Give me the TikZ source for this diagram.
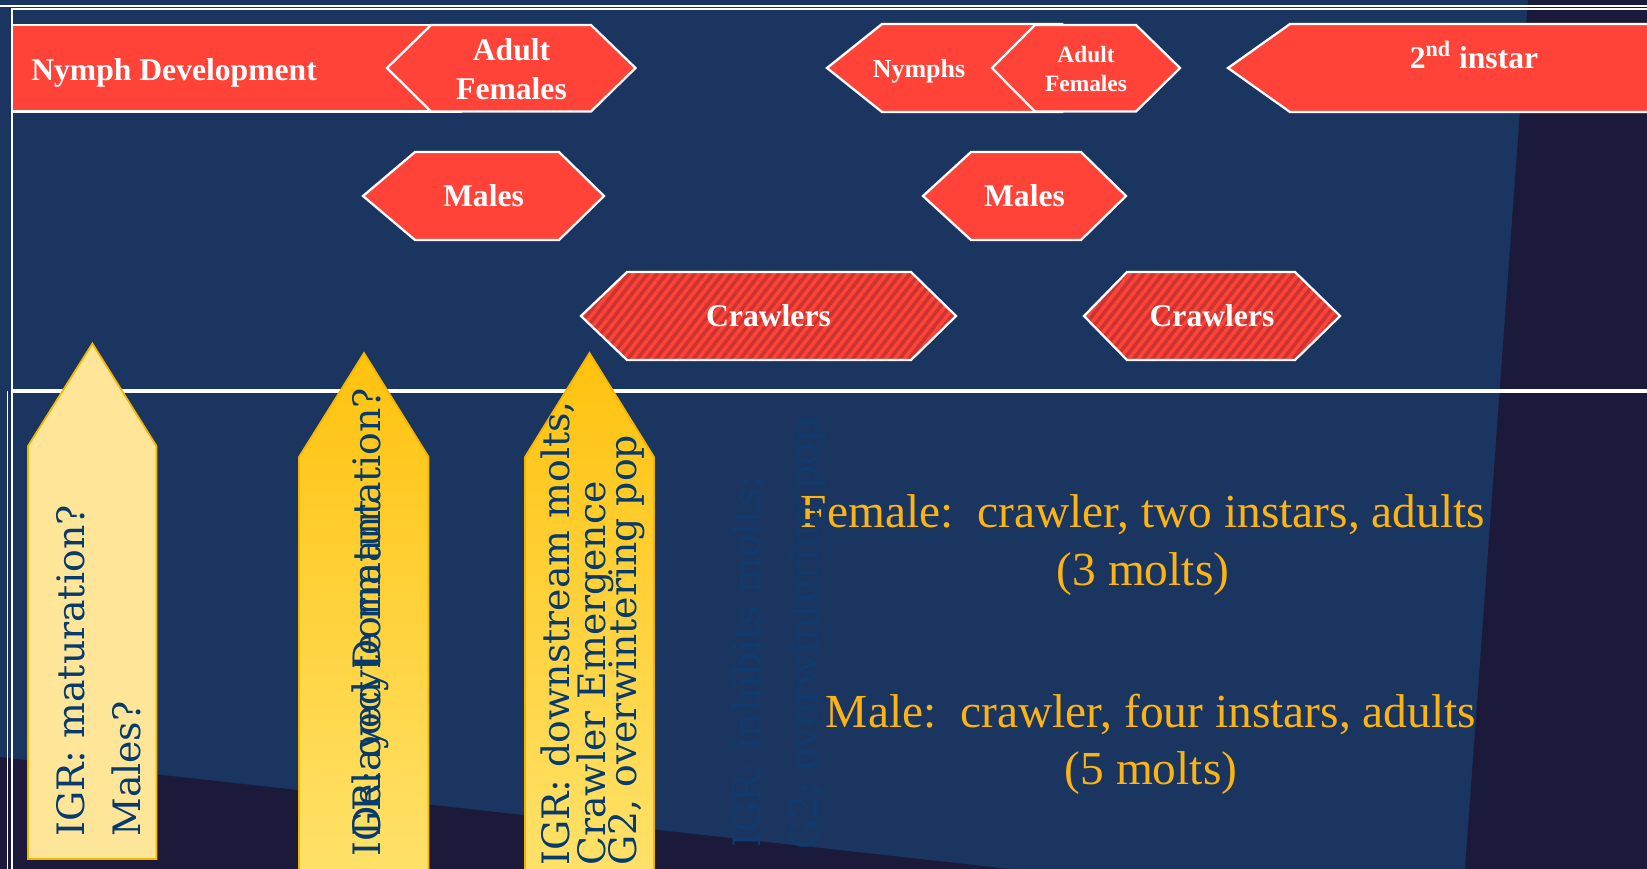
\documentclass[tikz,border=0pt]{standalone}
\usepackage{fontspec}
\setmainfont{Liberation Serif}
\newfontfamily\arrowfont{DejaVu Serif}
\usetikzlibrary{patterns.meta}
\definecolor{slidebg}{HTML}{1A355F}
\definecolor{slidedark}{HTML}{1C1A3B}
\definecolor{stagered}{HTML}{FF4338}
\definecolor{stagedark}{HTML}{CC3430}
\definecolor{igrpale}{HTML}{FFE597}
\definecolor{igrgold}{HTML}{FFC20E}
\definecolor{igrlight}{HTML}{FFE26B}
\definecolor{igredge}{HTML}{F5B400}
\definecolor{igrtext}{HTML}{073A6D}
\definecolor{igrfaint}{HTML}{113B6C}
\definecolor{moltyellow}{HTML}{FCB414}

\begin{document}
\begin{tikzpicture}[x=0.02cm, y=-0.02cm,
	stage/.style={draw=white, line width=1.3pt, fill=stagered},
	crawlstage/.style={draw=white, line width=1.3pt, preaction={fill=stagedark},
		pattern={Lines[angle=52,distance=4.2pt,line width=2pt]}, pattern color=stagered},
	stagelbl/.style={text=white, font=\fontsize{18}{22}\selectfont\bfseries, inner sep=0pt, align=center},
	igr/.style={draw=igredge, line width=1pt},
	igrtxt/.style={text=igrtext, font=\arrowfont\fontsize{21.5}{24}\selectfont, rotate=90, anchor=base west, inner sep=0pt},
	molt/.style={text=moltyellow, font=\fontsize{27}{32}\selectfont, anchor=base, inner sep=0pt}]
	 \useasboundingbox (0,0) rectangle (1647,869);
	 % slide background
	 \fill[slidebg] (0,0) rectangle (1647,869);
	 \fill[slidedark] (1528,0) -- (1647,0) -- (1647,869) -- (1465,869) -- cycle;
	 \fill[slidedark] (0,757) -- (1010,869) -- (0,869) -- cycle;
	 \draw[white, line width=1pt] (0,6) -- (1647,6);
	 \draw[white, line width=1pt] (12,869) -- (12,9) -- (1647,9);
	 \draw[white, line width=1.8pt] (12,391) -- (1647,391);
	 \draw[white, line width=0.8pt] (7.5,391) -- (7.5,869);

	 % top row
	 \draw[stage] (12,25) rectangle (461,111.5);
	 \node[stagelbl, anchor=base west] (nymphdev) at (31,80) {Nymph Development};
	 \draw[stage] (387,68) -- (431,25) -- (591,25) -- (635.5,68) -- (591,111.5) -- (431,111.5) -- cycle;
	 \node[stagelbl] (adultfem) at (511.5,69) {Adult\\Females};

	 \draw[stage] (827,68) -- (882,24) -- (1062,24) -- (1117,68) -- (1062,112) -- (882,112) -- cycle;
	 \node[stagelbl, font=\fontsize{14.8}{17}\selectfont\bfseries, anchor=base] (nymphs) at (919,77) {Nymphs};
	 \draw[stage] (992,68) -- (1035,25) -- (1136,25) -- (1180,68) -- (1136,111.5) -- (1035,111.5) -- cycle;
	 \node[stagelbl, font=\fontsize{13.3}{16}\selectfont\bfseries] (adultfemb) at (1086,69) {Adult\\Females};

	 \draw[stage] (1670,24) -- (1290,24) -- (1228,68) -- (1290,112) -- (1670,112) -- cycle;
	 \node[stagelbl, anchor=base] (instar) at (1474,68) {2\textsuperscript{nd} instar};

	 % males
	 \draw[stage] (363,196) -- (415,152) -- (559,152) -- (604,196) -- (559,240) -- (415,240) -- cycle;
	 \node[stagelbl, anchor=base] (malesa) at (483.5,206.5) {Males};
	 \draw[stage] (923,196) -- (971,152) -- (1081,152) -- (1126,196) -- (1081,240) -- (971,240) -- cycle;
	 \node[stagelbl, anchor=base] (malesb) at (1024.5,206.5) {Males};

	 % crawlers
	 \draw[crawlstage] (581,316) -- (627,272) -- (911,272) -- (956,316) -- (911,360) -- (627,360) -- cycle;
	 \node[stagelbl, anchor=base] (crawla) at (768.5,326.5) {Crawlers};
	 \draw[crawlstage] (1084,316) -- (1127,272) -- (1295,272) -- (1340,316) -- (1295,360) -- (1127,360) -- cycle;
	 \node[stagelbl, anchor=base] (crawlb) at (1212,326.5) {Crawlers};

	 % IGR arrows
	 \draw[igr, fill=igrpale] (28,859) -- (28,446) -- (92.4,343.5) -- (156.5,446) -- (156.5,859) -- cycle;
	 \node[igrtxt] (igrmat) at (84,837) {IGR: maturation?};
	 \node[igrtxt] (igrmales) at (140,837) {Males?};

	 \draw[igr, top color=igrgold, bottom color=igrlight] (299,880) -- (299,457) -- (364,353) -- (428.6,457) -- (428.6,880) -- cycle;
	 \node[igrtxt] (igrooc) at (380,857) {IGR: oocyte maturation?};
	 \node[igrtxt] (dormant) at (380,837) {Delayed Dormant};

	 \draw[igr, top color=igrgold, bottom color=igrlight] (525,880) -- (525,457) -- (589.5,353) -- (654,457) -- (654,880) -- cycle;
	 \node[igrtxt] (igrdown) at (569,866) {IGR: downstream molts,};
	 \node[igrtxt] (crawlemerge) at (605,866) {Crawler Emergence};
	 \node[igrtxt] (gtwo) at (636,866) {G2, overwintering pop};

	 % molt counts
	 \node[molt] (femmolt) at (1143,527) {Female:\ \ crawler, two instars, adults};
	 \node[molt] (femthree) at (1143,585) {(3 molts)};
	 \node[molt] (malemolt) at (1151,727) {Male:\ \ crawler, four instars, adults};
	 \node[molt] (malefive) at (1151,784) {(5 molts)};

	 \node[igrtxt, text=igrfaint] (igrinhib) at (760,848) {IGR: inhibits molts;};
	 \node[igrtxt, text=igrfaint] (gtwofaint) at (817,850) {G2; overwintering pop};
\end{tikzpicture}
\end{document}
